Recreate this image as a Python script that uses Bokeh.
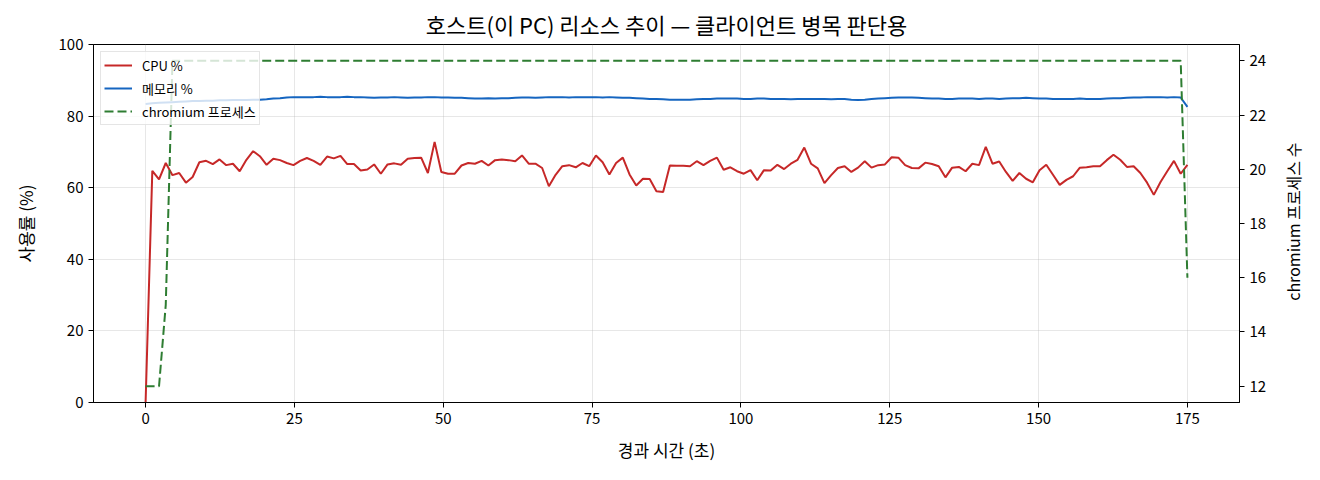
import math
import numpy as np
from bokeh.plotting import figure
from bokeh.layouts import row
from bokeh.models import (Range1d, LinearAxis, FixedTicker, Legend, LegendItem,
                          ColumnDataSource)
from bokeh.core.properties import value
from bokeh.embed import file_html
from bokeh.resources import INLINE

FONT = "Noto Sans CJK KR"

title_text = "호스트(이 PC) 리소스 추이 — 클라이언트 병목 판단용"
x_label = "경과 시간 (초)"
y_label = "사용률 (%)"
y2_label = "chromium 프로세스 수"
series_names = ["CPU %", "메모리 %", "chromium 프로세스"]

x_ticks = [0, 25, 50, 75, 100, 125, 150, 175]
y_ticks = [0, 20, 40, 60, 80, 100]
y2_ticks = [12, 14, 16, 18, 20, 22, 24]

cpu = [
    0, 64.7, 62.3, 66.9, 63.5, 64.1, 61.4, 63.0, 67.1, 67.5,
    66.6, 67.9, 66.3, 66.7, 64.6, 67.8, 70.2, 68.8, 66.4, 68.1,
    67.7, 66.9, 66.3, 67.5, 68.3, 67.5, 66.4, 68.7, 68.2, 68.9,
    66.6, 66.6, 64.8, 65.1, 66.5, 63.9, 66.5, 66.8, 66.4, 68.1,
    68.3, 68.4, 64.1, 72.8, 64.4, 63.9, 63.9, 66.2, 66.9, 66.7,
    67.5, 66.2, 67.7, 67.9, 67.7, 67.4, 69.0, 66.7, 66.7, 65.5,
    60.4, 63.6, 66.0, 66.3, 65.7, 66.9, 66.0, 69.0, 67.1, 63.7,
    66.9, 68.4, 63.7, 60.6, 62.5, 62.4, 59.0, 58.8, 66.2, 66.1,
    66.1, 66.0, 67.4, 66.3, 67.5, 68.4, 65.0, 65.7, 64.6, 63.9,
    64.9, 62.1, 64.9, 64.8, 66.4, 65.2, 66.7, 67.8, 71.2, 66.7,
    65.4, 61.3, 63.5, 65.5, 66.0, 64.4, 65.6, 67.4, 65.6, 66.3,
    66.5, 68.5, 68.4, 66.3, 65.5, 65.4, 67.0, 66.6, 66.0, 62.9,
    65.6, 65.8, 64.6, 66.7, 66.3, 71.4, 66.7, 67.3, 64.4, 61.9,
    64.1, 62.5, 61.5, 64.9, 66.4, 63.6, 60.8, 62.2, 63.2, 65.6,
    65.7, 66.0, 66.0, 67.7, 69.2, 67.8, 65.8, 66.0, 64.1, 61.4,
    58.0, 61.6, 64.6, 67.5, 63.9, 66.4,
]

mem = [
    83.4, 83.6, 83.7, 83.8, 83.9, 84.0, 84.1, 84.2, 84.2, 84.3, 84.3, 84.4,
    84.4, 84.5, 84.5, 84.5, 84.6, 84.6, 84.7, 84.9, 85.0, 85.2, 85.3,
    85.3, 85.3, 85.3, 85.4, 85.3, 85.3, 85.3, 85.4, 85.3, 85.3, 85.2,
    85.1, 85.2, 85.2, 85.3, 85.2, 85.1, 85.2, 85.2, 85.3, 85.3, 85.2,
    85.2, 85.1, 85.1, 85.0, 84.9, 84.9, 85.0, 84.9, 85.0, 85.0, 85.1,
    85.2, 85.2, 85.1, 85.2, 85.3, 85.3, 85.3, 85.2, 85.3, 85.3, 85.3,
    85.3, 85.2, 85.3, 85.2, 85.1, 85.1, 85.0, 84.9, 84.8, 84.8, 84.7,
    84.6, 84.6, 84.6, 84.6, 84.7, 84.8, 84.8, 84.9, 84.9, 84.9, 84.9,
    84.8, 84.8, 84.9, 84.9, 84.8, 84.8, 84.8, 84.7, 84.8, 84.8, 84.8,
    84.8, 84.8, 84.7, 84.8, 84.8, 84.6, 84.5, 84.6, 84.8, 84.9, 85.0,
    85.1, 85.2, 85.2, 85.2, 85.1, 85.0, 84.9, 84.9, 84.8, 84.8, 84.9,
    84.9, 84.9, 84.8, 84.9, 84.9, 84.8, 84.9, 85.0, 85.0, 85.1, 85.0,
    84.9, 84.9, 84.8, 84.8, 84.8, 84.8, 84.9, 84.8, 84.8, 84.8, 84.9,
    85.0, 85.0, 85.1, 85.2, 85.2, 85.3, 85.3, 85.3, 85.2, 85.3, 85.2, 82.6,
]

proc = [12, 12, 12, 15] + [24] * 151 + [16]

elapsed = np.linspace(0, 175, len(cpu))

src = ColumnDataSource(dict(t=elapsed, cpu=cpu, mem=mem, proc=proc))

p = figure(width=1270, height=464,
           x_range=Range1d(-8.75, 183.75), y_range=Range1d(0, 100),
           output_backend="svg", toolbar_location=None,
           min_border_left=93, min_border_right=31,
           min_border_top=44, min_border_bottom=61)
p.extra_y_ranges = {"proc": Range1d(11.4, 24.6)}

p.title.text = title_text
p.title.align = "center"
p.title.text_font = FONT
p.title.text_font_size = "22px"
p.title.text_font_style = "normal"
p.title.text_color = "black"

p.outline_line_color = "black"
p.outline_line_width = 1
p.outline_line_alpha = 1
p.background_fill_color = "white"
p.border_fill_color = "white"

p.xaxis.ticker = FixedTicker(ticks=x_ticks)
p.yaxis.ticker = FixedTicker(ticks=y_ticks)
p.xaxis.axis_label = x_label
p.yaxis.axis_label = y_label

right = LinearAxis(y_range_name="proc", ticker=FixedTicker(ticks=y2_ticks))
p.add_layout(right, "right")

for ax in [p.xaxis[0], p.yaxis[0], right]:
    ax.major_label_text_font = FONT
    ax.major_label_text_font_size = "15px"
    ax.major_label_text_color = "black"
    ax.axis_label_text_font = FONT
    ax.axis_label_text_font_size = "17px"
    ax.axis_label_text_font_style = "normal"
    ax.axis_label_text_color = "black"
    ax.axis_line_color = "black"
    ax.major_tick_line_color = "black"
    ax.major_tick_out = 5
    ax.major_tick_in = 0
    ax.minor_tick_line_color = None

p.xaxis[0].axis_label_standoff = 10
p.yaxis[0].axis_label_standoff = 18

p.xgrid.grid_line_color = "#b0b0b0"
p.xgrid.grid_line_alpha = 0.3
p.ygrid.grid_line_color = "#b0b0b0"
p.ygrid.grid_line_alpha = 0.3

r_cpu = p.line("t", "cpu", source=src, line_color="#c62828", line_width=2)
r_mem = p.line("t", "mem", source=src, line_color="#1565c0", line_width=2)
r_proc = p.line("t", "proc", source=src, y_range_name="proc",
                line_color="#2e7d32", line_width=2, line_dash="9 4")

legend = Legend(items=[LegendItem(label=series_names[0], renderers=[r_cpu]),
                       LegendItem(label=series_names[1], renderers=[r_mem]),
                       LegendItem(label=series_names[2], renderers=[r_proc])],
                location="top_left")
legend.label_text_font = FONT
legend.label_text_font_size = "13px"
legend.label_text_color = "black"
legend.glyph_width = 28
legend.glyph_height = 20
legend.label_height = 20
legend.label_standoff = 10
legend.spacing = 3
legend.padding = 3
legend.margin = 7
legend.border_line_color = "#cccccc"
legend.border_line_width = 1
legend.background_fill_alpha = 0.8
p.add_layout(legend)

# narrow strip carrying the right-hand axis title (reads bottom-to-top)
q = figure(width=44, height=464, x_range=Range1d(0, 1), y_range=Range1d(0, 1),
           output_backend="svg", toolbar_location=None,
           min_border_left=0, min_border_right=0,
           min_border_top=0, min_border_bottom=0)
q.axis.visible = False
q.xgrid.visible = False
q.ygrid.visible = False
q.outline_line_color = None
q.background_fill_color = "white"
q.border_fill_color = "white"
q.text(x=[0.5], y=[0.505], text=[y2_label], angle=math.pi / 2,
       text_align="center", text_baseline="middle",
       text_font=value(FONT), text_font_size="16px", text_color="black")

layout = row(p, q)

open("out.html", "w").write(file_html(layout, INLINE))
